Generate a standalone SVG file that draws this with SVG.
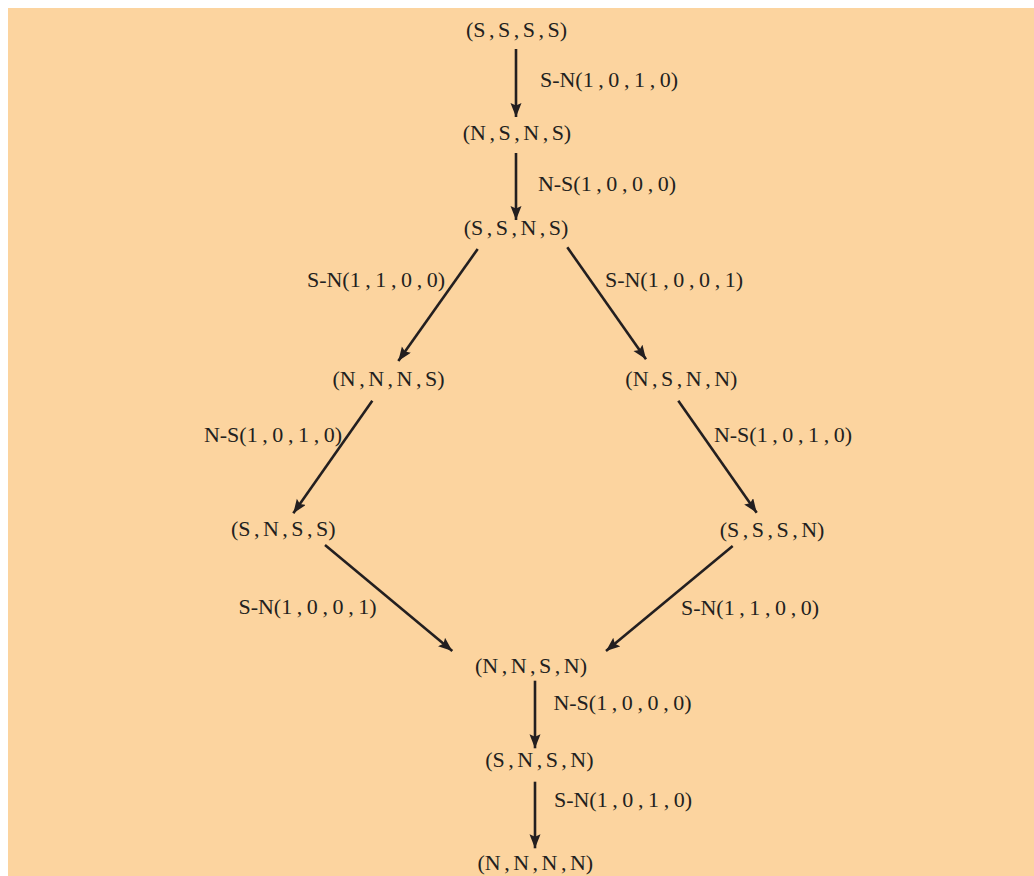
<svg xmlns="http://www.w3.org/2000/svg" width="1034" height="876" viewBox="0 0 1034 876">
<defs>
<style>
.bg{fill:#FCD49F}
.n{font-family:"Liberation Serif","Times New Roman",serif;font-size:22px;fill:#231F20;text-anchor:middle;word-spacing:-2px}
.l{font-family:"Liberation Serif","Times New Roman",serif;font-size:22px;fill:#231F20;text-anchor:middle;word-spacing:-0.9px}
.e{stroke:#231F20;stroke-width:2.6;fill:none;marker-end:url(#ah)}
</style>
<marker id="ah" markerUnits="userSpaceOnUse" markerWidth="14" markerHeight="12" refX="14" refY="5.5" orient="auto">
<path d="M0,0 L14,5.5 L0,11 L2.5,5.5 z" fill="#231F20"/>
</marker>
</defs>
<rect class="bg" x="8" y="8" width="1026" height="868"/>
<g id="edges">
<line class="e" x1="516" y1="49" x2="516" y2="117"/>
<line class="e" x1="516" y1="153" x2="516" y2="220"/>
<line class="e" x1="477.7" y1="249" x2="398.3" y2="361"/>
<line class="e" x1="567.3" y1="247.3" x2="646" y2="359.3"/>
<line class="e" x1="372.3" y1="400.7" x2="293.3" y2="513.3"/>
<line class="e" x1="678.3" y1="400.7" x2="756.7" y2="512.7"/>
<line class="e" x1="325" y1="545" x2="452.3" y2="651"/>
<line class="e" x1="732.7" y1="546" x2="606" y2="651"/>
<line class="e" x1="535" y1="680.7" x2="535" y2="748.3"/>
<line class="e" x1="535" y1="781.7" x2="535" y2="848.3"/>
<text class="l" x="609" y="87">S-N(1 , 0 , 1 , 0)</text>
<text class="l" x="607" y="191">N-S(1 , 0 , 0 , 0)</text>
<text class="l" x="376" y="287">S-N(1 , 1 , 0 , 0)</text>
<text class="l" x="674" y="287">S-N(1 , 0 , 0 , 1)</text>
<text class="l" x="273" y="442">N-S(1 , 0 , 1 , 0)</text>
<text class="l" x="783" y="442">N-S(1 , 0 , 1 , 0)</text>
<text class="l" x="307.5" y="614">S-N(1 , 0 , 0 , 1)</text>
<text class="l" x="750" y="615">S-N(1 , 1 , 0 , 0)</text>
<text class="l" x="622.5" y="710">N-S(1 , 0 , 0 , 0)</text>
<text class="l" x="623" y="807">S-N(1 , 0 , 1 , 0)</text>
</g>
<g id="SSSS"><text class="n" x="516.5" y="37">(S , S , S , S)</text></g>
<g id="NSNS"><text class="n" x="517" y="140">(N , S , N , S)</text></g>
<g id="SSNS"><text class="n" x="516" y="235">(S , S , N , S)</text></g>
<g id="NNNS"><text class="n" x="388.5" y="386">(N , N , N , S)</text></g>
<g id="NSNN"><text class="n" x="681.4" y="386">(N , S , N , N)</text></g>
<g id="SNSS"><text class="n" x="283.3" y="536">(S , N , S , S)</text></g>
<g id="SSSN"><text class="n" x="772" y="537">(S , S , S , N)</text></g>
<g id="NNSN"><text class="n" x="531" y="673">(N , N , S , N)</text></g>
<g id="SNSN"><text class="n" x="539.4" y="767">(S , N , S , N)</text></g>
<g id="NNNN"><text class="n" x="535.3" y="870">(N , N , N , N)</text></g>
</svg>
